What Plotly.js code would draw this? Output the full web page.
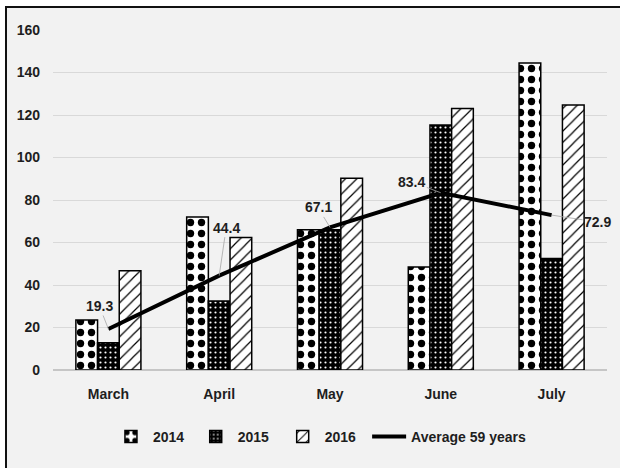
<!DOCTYPE html>
<html>
<head>
<meta charset="utf-8">
<script src="https://cdn.plot.ly/plotly-3.0.1.min.js"></script>
<style>
  html, body { margin: 0; padding: 0; background: #ffffff; }
  #chart {
    position: absolute; left: 5px; top: 6px;
    border-top: 2px solid #111; border-left: 2px solid #111;
  }
</style>
</head>
<body>
<div id="chart"></div>
<script>
// Monthly totals per year plus the long-term average
const months = ["March", "April", "May", "June", "July"];
const y2014 = [23.5, 72, 66, 48.5, 144.5];
const y2015 = [12.8, 32.5, 66, 115.3, 52.5];
const y2016 = [46.7, 62.3, 90.2, 123.1, 124.7];
const avg59 = [19.3, 44.4, 67.1, 83.4, 72.9];
const avgLabelOffsets = [[-9, -23], [7, -48], [-12, -20], [-29, -11], [46, 7]];

const FONT = "Liberation Sans, Arial, sans-serif";
const INK = "#1e1e1e";

function barTrace(name, vals, pattern, legendId) {
  return {
    type: "bar", name: name, x: months, y: vals, legend: legendId,
    marker: { color: "#ffffff", line: { color: "#000", width: 1.5 }, pattern: pattern },
    hoverinfo: "skip"
  };
}

const traces = [
  barTrace("2014", y2014, { shape: ".", bgcolor: "#ffffff", fgcolor: "#000000", size: 11, solidity: 0.35, fillmode: "replace" }, "legend"),
  barTrace("2015", y2015, { shape: ".", bgcolor: "#000000", fgcolor: "#ffffff", size: 5, solidity: 0.15, fillmode: "replace" }, "legend2"),
  barTrace("2016", y2016, { shape: "/", bgcolor: "#ffffff", fgcolor: "#000000", size: 8, solidity: 0.15, fillmode: "replace" }, "legend3"),
  {
    type: "scatter", mode: "lines", name: "Average 59 years", legend: "legend4",
    x: months, y: avg59, line: { color: "#000", width: 4 }, hoverinfo: "skip"
  }
];

const annotations = avg59.map((v, i) => ({
  x: months[i], y: v, xref: "x", yref: "y",
  text: v.toFixed(1), showarrow: true, arrowhead: 0, arrowwidth: 0.8, arrowcolor: "#a6a6a6",
  ax: avgLabelOffsets[i][0], ay: avgLabelOffsets[i][1],
  font: { family: FONT, size: 14, color: INK, weight: "bold" }
}));

// one legend box per entry, spread along the bottom
function legendBox(xPos) {
  return {
    orientation: "h", x: xPos, xanchor: "left", y: -0.197, yanchor: "middle",
    font: { family: FONT, size: 14, color: INK, weight: "bold" },
    bgcolor: "rgba(0,0,0,0)", itemwidth: 34
  };
}

const layout = {
  width: 613, height: 460,
  margin: { l: 46, r: 13, t: 22, b: 98, autoexpand: false },
  paper_bgcolor: "#f2f2f2", plot_bgcolor: "#f2f2f2",
  font: { family: FONT, size: 14, color: INK, weight: "bold" },
  barmode: "group", bargap: 0.413, bargroupgap: 0,
  showlegend: true,
  legend: legendBox(0.101),
  legend2: legendBox(0.254),
  legend3: legendBox(0.411),
  legend4: legendBox(0.567),
  xaxis: {
    type: "category", range: [-0.5, months.length - 0.5], autorange: false,
    showgrid: false, zeroline: false, showline: false, automargin: false,
    ticks: "", ticklabelstandoff: 14, fixedrange: true
  },
  yaxis: {
    range: [0, 160], dtick: 20, showgrid: true, gridcolor: "#d9d9d9", gridwidth: 1,
    zeroline: true, zerolinecolor: "#c6c6c6", zerolinewidth: 1.5, showline: false, automargin: false,
    ticks: "", ticklabelstandoff: 12, fixedrange: true
  },
  annotations: annotations
};

Plotly.newPlot("chart", traces, layout, { staticPlot: true, displayModeBar: false });
</script>
</body>
</html>
